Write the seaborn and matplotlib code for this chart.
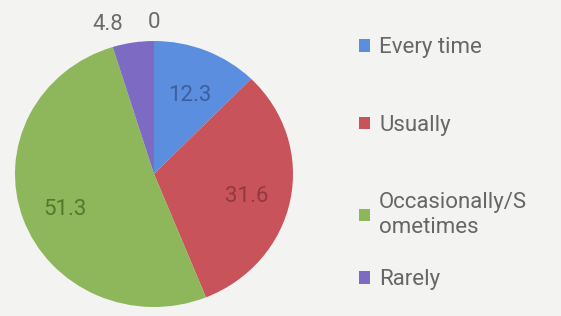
import numpy as np
import matplotlib
matplotlib.use("Agg")
import matplotlib.pyplot as plt
import seaborn as sns

categories = ["Every time", "Usually", "Occasionally/S\nometimes", "Rarely", "Never"]
values = [12.3, 31.6, 51.3, 4.8, 0]
value_labels = ["12.3", "31.6", "51.3", "4.8", "0"]

slice_colors = ["#5b8ede", "#c9535b", "#8db75a", "#7d6bc3", "#f2a93b"]
label_colors = ["#3d5f9c", "#8e3a40", "#4f7a2f", "#6b6b6b", "#6b6b6b"]

sns.set_theme(style="white")
plt.rcParams["font.family"] = ["Roboto", "DejaVu Sans"]

bg = "#f3f3f1"
fig = plt.figure(figsize=(5.61, 3.16), dpi=100, facecolor=bg)

# pie centre ~ (154, 174) px, photo is a little squashed vertically
rx, ry = 139, 133
cx, cy = 154, 174
ax = fig.add_axes([(cx - rx) / 561, (316 - cy - ry) / 316, 2 * rx / 561, 2 * ry / 316])
ax.set_facecolor(bg)

wedges, _ = ax.pie(values, colors=slice_colors, startangle=90, counterclock=False,
                   wedgeprops=dict(linewidth=0))
ax.set_xlim(-1, 1)
ax.set_ylim(-1, 1)
ax.set_aspect("auto")
ax.axis("off")

# value labels
for w, lab, col, v in zip(wedges, value_labels, label_colors, values):
    mid = np.deg2rad((w.theta1 + w.theta2) / 2)
    if v > 10:
        d = 0.68
        ax.text(d * np.cos(mid), d * np.sin(mid) - 0.04, lab, ha="center", va="center",
                fontsize=16, color=col)
    else:
        d = 1.06
        ha = "right" if np.cos(mid) < -0.01 else "center"
        dx = -0.06 if ha == "right" else 0
        ax.text(d * np.cos(mid) + dx, d * np.sin(mid), lab, ha=ha, va="bottom",
                fontsize=16, color=col, clip_on=False)

leg_kw = dict(loc="upper left", frameon=False, fontsize=16, labelcolor="#666666",
              handlelength=0.5, handleheight=0.5, handletextpad=0.4,
              labelspacing=2.55, borderpad=0)
leg1 = fig.legend(wedges[:3], categories[:3],
                  bbox_to_anchor=(348 / 561, 1 - 26 / 316), **leg_kw)
leg2 = fig.legend(wedges[3:4], categories[3:4],
                  bbox_to_anchor=(348 / 561, 1 - 258 / 316), **leg_kw)

fig.savefig("out.png", dpi=100, facecolor=bg)
